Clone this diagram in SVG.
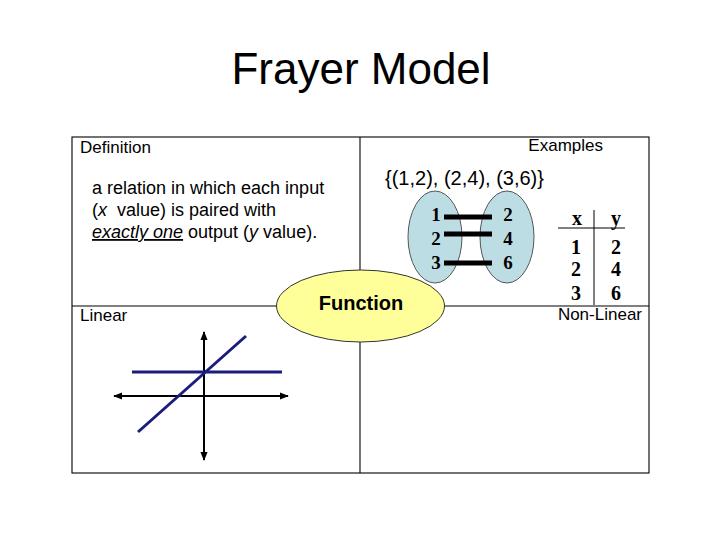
<svg xmlns="http://www.w3.org/2000/svg" width="720" height="540" viewBox="0 0 720 540">
<defs>
<style>
.sans{font-family:"Liberation Sans",Arial,sans-serif;fill:#000}
.serif{font-family:"Liberation Serif","Times New Roman",serif;font-weight:bold;fill:#000}
.frame{fill:none;stroke:#000;stroke-width:1.1}
.axis{stroke:#000;stroke-width:2;fill:none}
.blue{stroke:#1c1c7c;stroke-width:3;fill:none}
.set{fill:#bddde4;stroke:#555;stroke-width:1}
.bar{stroke:#000;stroke-width:5}
</style>
<marker id="ah" viewBox="0 0 10 10" refX="9" refY="5" markerWidth="4.5" markerHeight="4.5" orient="auto-start-reverse">
<path d="M0,1 L10,5 L0,9 Z" fill="#000"/>
</marker>
</defs>
<rect width="720" height="540" fill="#fff"/>
<g id="title"><text class="sans" x="361" y="84" font-size="44" text-anchor="middle">Frayer Model</text></g>
<g id="frame">
<rect class="frame" x="72" y="137" width="577" height="336"/>
<line class="frame" x1="360" y1="137" x2="360" y2="473"/>
<line class="frame" x1="72" y1="306" x2="649" y2="306"/>
</g>
<g id="definition">
<text class="sans" x="80" y="153" font-size="17">Definition</text>
<text class="sans" font-size="18" xml:space="preserve"><tspan x="92" y="194">a relation in which each input</tspan><tspan x="92" y="216">(<tspan font-style="italic">x</tspan>  value) is paired with</tspan><tspan x="92" y="238"><tspan font-style="italic" text-decoration="underline">exactly one</tspan> output (<tspan font-style="italic">y</tspan> value).</tspan></text>
</g>
<g id="examples">
<text class="sans" x="603" y="151" font-size="17" text-anchor="end">Examples</text>
<text class="sans" x="385" y="185" font-size="20">{(1,2), (2,4), (3,6)}</text>
<g id="mapping">
<ellipse class="set" cx="435" cy="237" rx="27" ry="46"/>
<ellipse class="set" cx="507" cy="237" rx="27" ry="46"/>
<g class="serif" font-size="19" text-anchor="middle">
<text x="436" y="221">1</text><text x="436" y="245">2</text><text x="436" y="269">3</text>
<text x="508" y="221">2</text><text x="508" y="245">4</text><text x="508" y="269">6</text>
</g>
</g>
<g id="table">
<line x1="558" y1="228" x2="625" y2="228" stroke="#000" stroke-width="1"/>
<line x1="594" y1="210" x2="594" y2="305" stroke="#000" stroke-width="1"/>
<g class="serif" font-size="20" text-anchor="middle">
<text x="577" y="225">x</text><text x="616" y="225">y</text>
<text x="576" y="254">1</text><text x="616" y="254">2</text>
<text x="576" y="276">2</text><text x="616" y="276">4</text>
<text x="576" y="300">3</text><text x="616" y="300">6</text>
</g>
</g>
</g>
<g id="connectors">
<line class="bar" x1="444" y1="217" x2="492" y2="217"/>
<line class="bar" x1="444" y1="234" x2="492" y2="234"/>
<line class="bar" x1="444" y1="263" x2="492" y2="263"/>
</g>
<g id="linear">
<text class="sans" x="80" y="321" font-size="17">Linear</text>
<line class="axis" x1="204" y1="460" x2="204" y2="332" marker-start="url(#ah)" marker-end="url(#ah)"/>
<line class="axis" x1="114" y1="396" x2="288" y2="396" marker-start="url(#ah)" marker-end="url(#ah)"/>
<line class="blue" x1="132" y1="372" x2="282" y2="372"/>
<line class="blue" x1="138" y1="432" x2="246" y2="336"/>
</g>
<g id="nonlinear"><text class="sans" x="642" y="320" font-size="17" text-anchor="end">Non-Linear</text></g>
<g id="function">
<ellipse cx="360.5" cy="306" rx="84" ry="36" fill="#ffff99" stroke="#333" stroke-width="1"/>
<text class="sans" x="361" y="310" font-size="20" font-weight="bold" text-anchor="middle">Function</text>
</g>
</svg>
